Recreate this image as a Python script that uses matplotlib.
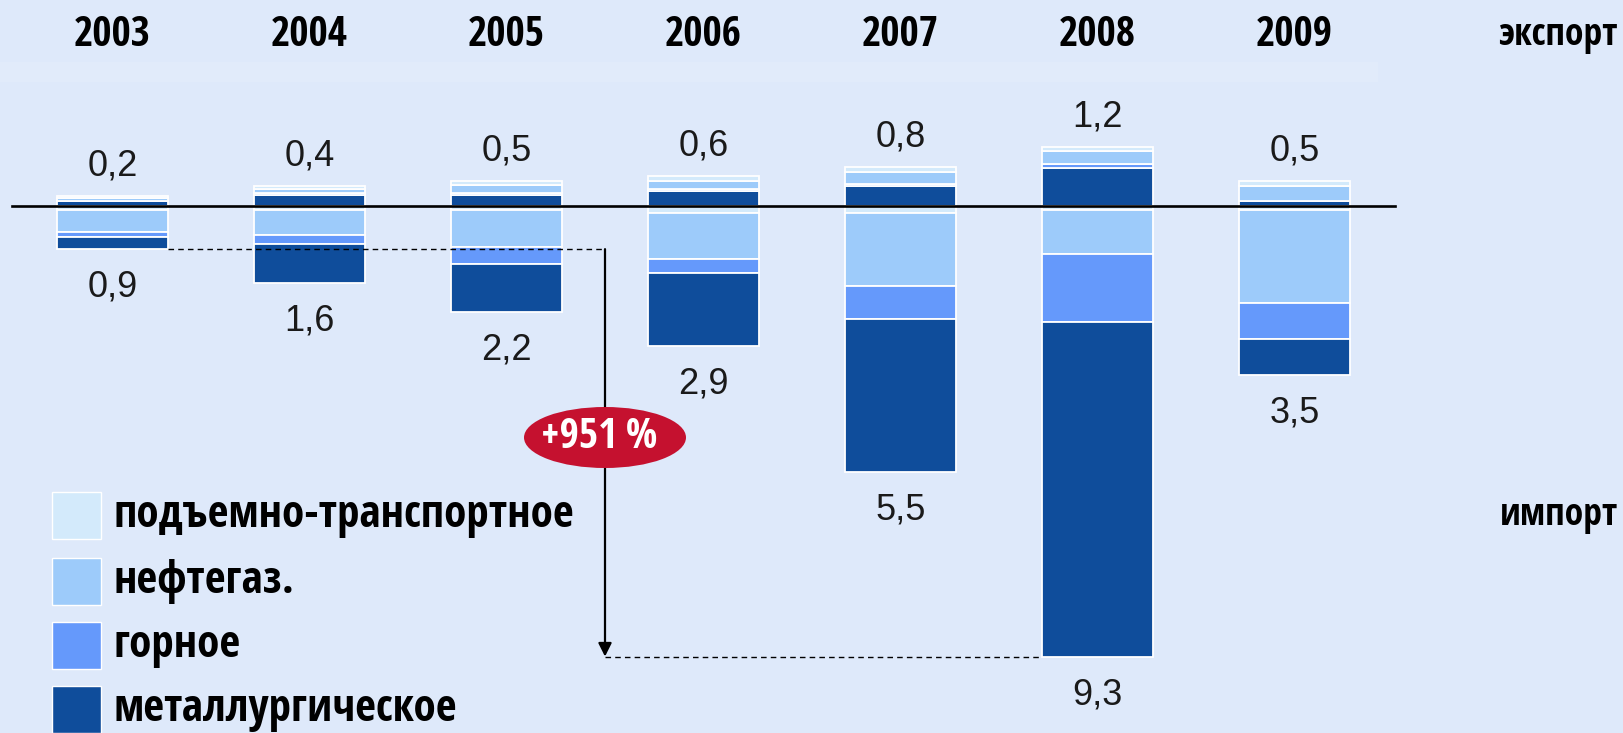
import matplotlib
matplotlib.use('Agg')
import matplotlib.pyplot as plt
from matplotlib.patches import Ellipse, Rectangle
from matplotlib import font_manager
from matplotlib.font_manager import FontProperties
import numpy as np

# ---------------- data ----------------
years = ['2003', '2004', '2005', '2006', '2007', '2008', '2009']
export_total = [0.2, 0.4, 0.5, 0.6, 0.8, 1.2, 0.5]
import_total = [0.9, 1.6, 2.2, 2.9, 5.5, 9.3, 3.5]
categories = ['подъемно-транспортное', 'нефтегаз.', 'горное', 'металлургическое']

# export segments (stacked upward from zero)
exp_metal = [0.10, 0.22, 0.22, 0.30, 0.40, 0.77, 0.10]
exp_mining = [0.00, 0.03, 0.03, 0.03, 0.05, 0.08, 0.00]
exp_oil = [0.05, 0.10, 0.18, 0.17, 0.25, 0.27, 0.30]
exp_lift = [0.05, 0.05, 0.07, 0.10, 0.10, 0.08, 0.10]
# import segments (stacked downward from zero)
imp_lift = [0.10, 0.10, 0.10, 0.15, 0.15, 0.10, 0.10]
imp_oil = [0.45, 0.50, 0.75, 0.95, 1.50, 0.90, 1.90]
imp_mining = [0.10, 0.20, 0.35, 0.30, 0.70, 1.40, 0.75]
imp_metal = [0.25, 0.80, 1.00, 1.50, 3.15, 6.90, 0.75]

growth_label = '+951\u2009%'
export_word = 'экспорт'
import_word = 'импорт'

# ---------------- style ----------------
W, H = 1624, 733
BG = '#dee9fa'
C_LIFT = '#d3eafb'
C_OIL = '#9dcbfa'
C_MINING = '#6599fb'
C_METAL = '#0f4d9b'
RED = '#c5112f'

# look for a condensed bold sans font
cands = []
for f in font_manager.fontManager.ttflist:
    isbold = (f.weight in ('bold', 700, 'heavy') or (isinstance(f.weight, int) and f.weight >= 600))
    iscond = ('Narrow' in f.name) or ('Condensed' in f.name) or (f.stretch in ('condensed', 'semi-condensed', 'extra-condensed'))
    if isbold and iscond and 'Oblique' not in f.fname and 'Italic' not in f.fname:
        pri = 0 if 'Liberation' in f.name else (1 if 'Open' in f.name or 'Noto' in f.name else 2)
        cands.append((pri, f.fname))
cands.sort()
if cands:
    BOLDFP = dict(fontproperties=FontProperties(fname=cands[0][1]))
    COND = True
else:
    BOLDFP = dict(family='Liberation Sans', fontweight='bold')
    COND = False
REG = 'Liberation Sans'

def bold(size):
    d = dict(BOLDFP)
    if 'fontproperties' in d:
        fp = d['fontproperties'].copy()
        fp.set_size(size)
        return dict(fontproperties=fp)
    d['fontsize'] = size
    return d

fig = plt.figure(figsize=(W / 100, H / 100), dpi=100, facecolor=BG)
ax = fig.add_axes([0, 0, 1, 1])
ax.set_facecolor(BG)
ax.axis('off')

PX_X = 197.0       # px per category step
X0 = 112.5         # px of first bar centre
PX_Y = 48.5        # px per unit
Y0 = 205.5         # px of zero line from top
ax.set_xlim(-X0 / PX_X, (W - X0) / PX_X)
ax.set_ylim(-(H - Y0) / PX_Y, Y0 / PX_Y)

def fx(px):
    return px / W

def fy(py):
    return 1 - py / H

# faint band at top
fig.add_artist(Rectangle((0, fy(82)), fx(1378), 20 / H, transform=fig.transFigure,
                         facecolor='#e1ebfa', edgecolor='none', zorder=0))

x = np.arange(len(years))
bw = 0.56
ekw = dict(width=bw, edgecolor='white', linewidth=1.3, zorder=2)

# export stacks
b = np.zeros(len(years))
for vals, col in [(exp_metal, C_METAL), (exp_mining, C_MINING), (exp_oil, C_OIL), (exp_lift, C_LIFT)]:
    v = np.array(vals)
    ax.bar(x, v, bottom=b, color=col, **ekw)
    b = b + v
# import stacks
b = np.zeros(len(years))
for vals, col in [(imp_lift, C_LIFT), (imp_oil, C_OIL), (imp_mining, C_MINING), (imp_metal, C_METAL)]:
    v = -np.array(vals)
    ax.bar(x, v, bottom=b, color=col, **ekw)
    b = b + v

# zero line
ax.plot([-100.5 / PX_X, (1395 - X0) / PX_X], [0, 0], color='black', lw=1.9, zorder=4)

# value labels
def fmt(v):
    return f'{v:.1f}'.replace('.', ',')

for i in range(len(years)):
    ax.text(x[i], export_total[i] + 30 / PX_Y, fmt(export_total[i]), ha='center', va='center',
            fontsize=26, family=REG, color='#1a1a1a', zorder=5)
    ax.text(x[i], -import_total[i] - 38 / PX_Y, fmt(import_total[i]), ha='center', va='center',
            fontsize=26, family=REG, color='#1a1a1a', zorder=5)

# year labels
ysz = 30 if COND else 24
for i, yl in enumerate(years):
    ax.text(x[i], (Y0 - 35) / PX_Y, yl, ha='center', va='center', color='black', zorder=5, **bold(ysz))

fig.text(fx(1618), fy(35), export_word, ha='right', va='center', color='black', **bold(27 if COND else 22))
fig.text(fx(1618), fy(515), import_word, ha='right', va='center', color='black', **bold(27 if COND else 22))

# growth arrow
xa = 2.5
i03 = years.index('2003')
i08 = years.index('2008')
dash = dict(color='black', lw=1.0, linestyle=(0, (4, 3)), zorder=4)
ax.plot([x[i03] + bw / 2, xa], [-import_total[i03], -import_total[i03]], **dash)
ax.plot([xa, x[i08] - bw / 2], [-import_total[i08], -import_total[i08]], **dash)
ax.annotate('', xy=(xa, -import_total[i08]), xytext=(xa, -import_total[i03]),
            arrowprops=dict(arrowstyle='-|>', color='black', lw=1.6, mutation_scale=20,
                            shrinkA=0, shrinkB=0), zorder=4)
ey = -(437.5 - Y0) / PX_Y
ax.add_patch(Ellipse((xa, ey), 162 / PX_X, 61 / PX_Y, facecolor=RED, edgecolor='none', zorder=6))
ax.text(xa - 6 / PX_X, ey, growth_label, ha='center', va='center', color='white', zorder=7,
        **bold(30 if COND else 26))

# legend
rows = [515, 581, 645, 709]
cols = [C_LIFT, C_OIL, C_MINING, C_METAL]
for r, c, lab in zip(rows, cols, categories):
    fig.add_artist(Rectangle((fx(52), fy(r + 23.5)), 49 / W, 47 / H, transform=fig.transFigure,
                             facecolor=c, edgecolor='white', lw=1.0))
    fig.text(fx(114), fy(r), lab, ha='left', va='center', color='black', **bold(32.5 if COND else 27))

fig.savefig('out.png', dpi=100, facecolor=BG)
